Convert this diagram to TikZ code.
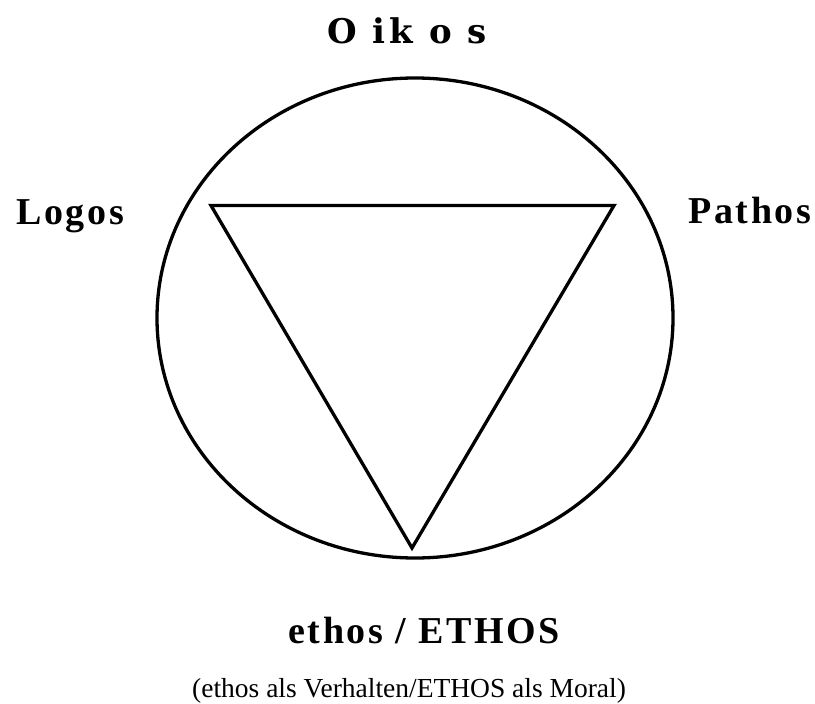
\documentclass[tikz,border=0pt]{standalone}
\usepackage{fontspec}
\setmainfont{Liberation Serif}
\newfontfamily\oikosfont[LetterSpace=12,BoldFont={DejaVu Serif Bold}]{DejaVu Serif}
\newfontfamily\spacedfont[LetterSpace=7]{Liberation Serif}
\begin{document}
\begin{tikzpicture}[x=1pt,y=1pt,yscale=-1,xscale=1]
			\useasboundingbox (0,0) rectangle (815,704);
			
			%Corners [id:corners] 
			\coordinate (lg) at (211,205.5);
			\coordinate (pt) at (614,205.5);
			\coordinate (et) at (412,548);
			
			%Shape: Ellipse [id:ring] 
			\draw [line width=3.3pt]  (415,318) ellipse (258 and 240);
			%Shape: Triangle [id:tri] 
			\draw [line width=3.3pt, line join=miter]  (lg) -- (pt) -- (et) -- cycle ;
			
			% Text Node
			\draw (327,43) node (oikos) [anchor=base west][inner sep=0pt]   {\oikosfont\bfseries\fontsize{34}{40}\selectfont O ik o s};
			% Text Node
			\draw (16,224) node (logos) [anchor=base west][inner sep=0pt]   {\spacedfont\bfseries\fontsize{38}{44}\selectfont Logos};
			% Text Node
			\draw (688,223) node (pathos) [anchor=base west][inner sep=0pt]   {\spacedfont\bfseries\fontsize{38}{44}\selectfont Pathos};
			% Text Node
			\draw (288,643) node (ethos) [anchor=base west][inner sep=0pt]   {\spacedfont\bfseries\fontsize{38}{44}\selectfont ethos / ETHOS};
			% Text Node
			\draw (192,697) node (moral) [anchor=base west][inner sep=0pt]   {\fontsize{27.5}{32}\selectfont (ethos als Verhalten/ETHOS als Moral)};
			
			
		\end{tikzpicture}
\end{document}
